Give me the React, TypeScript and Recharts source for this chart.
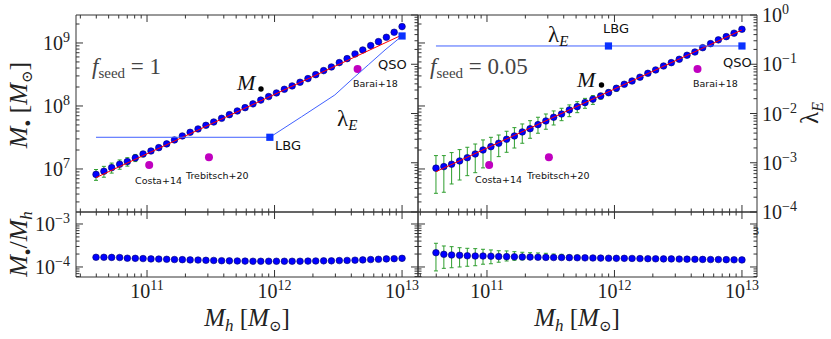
import React from 'react';
import { ComposedChart, Scatter, XAxis, YAxis, ErrorBar } from 'recharts';

// ---------- data ----------
const haloMass = [3.98e10, 4.59e10, 5.28e10, 6.10e10, 7.01e10, 8.09e10, 9.31e10, 1.074e11, 1.236e11, 1.426e11, 1.641e11, 1.892e11, 2.178e11, 2.512e11, 2.897e11, 3.334e11, 3.846e11, 4.426e11, 5.105e11, 5.875e11, 6.776e11, 7.798e11, 8.995e11, 1.035e12, 1.194e12, 1.374e12, 1.585e12, 1.828e12, 2.104e12, 2.427e12, 2.793e12, 3.221e12, 3.707e12, 4.276e12, 4.920e12, 5.675e12, 6.531e12, 7.534e12, 8.670e12, 1.0e13];

const bhMassSeed1 = [8.2e6, 9.2e6, 1.05e7, 1.19e7, 1.31e7, 1.50e7, 1.73e7, 1.93e7, 2.18e7, 2.50e7, 2.89e7, 3.34e7, 3.82e7, 4.32e7, 4.93e7, 5.57e7, 6.37e7, 7.28e7, 8.33e7, 9.4e7, 1.08e8, 1.24e8, 1.41e8, 1.61e8, 1.84e8, 2.08e8, 2.38e8, 2.72e8, 3.14e8, 3.64e8, 4.16e8, 4.88e8, 5.64e8, 6.69e8, 7.74e8, 9.08e8, 1.05e9, 1.23e9, 1.48e9, 1.82e9];
const bhMassSeed1Low = [6.6e6, 7.4e6, 8.6e6, 9.9e6, 1.11e7, 1.31e7, 1.56e7, 1.78e7];
const bhMassSeed1High = [9.8e6, 1.10e7, 1.24e7, 1.39e7, 1.51e7, 1.70e7, 1.90e7, 2.08e7];

const bhMassSeed005 = [1.03e7, 1.09e7, 1.19e7, 1.34e7, 1.51e7, 1.73e7, 2.00e7, 2.26e7, 2.56e7, 2.96e7, 3.34e7, 3.87e7, 4.36e7, 5.05e7, 5.78e7, 6.62e7, 7.46e7, 8.65e7, 9.75e7, 1.13e8, 1.28e8, 1.44e8, 1.63e8, 1.91e8, 2.21e8, 2.49e8, 2.86e8, 3.30e8, 3.73e8, 4.31e8, 4.87e8, 5.51e8, 6.38e8, 7.19e8, 8.42e8, 9.75e8, 1.12e9, 1.26e9, 1.43e9, 1.65e9];
const bhMassSeed005Low = [4.11e6, 4.27e6, 5.78e6, 6.68e6, 7.83e6, 8.73e6, 1.04e7, 1.23e7, 1.57e7, 1.84e7, 2.15e7, 2.56e7, 3.07e7, 3.69e7, 4.27e7, 4.99e7, 5.84e7, 6.76e7, 7.83e7, 9.19e7, 1.06e8, 1.28e8, 1.46e8, 1.71e8];
const bhMassSeed005High = [1.63e7, 1.63e7, 1.82e7, 2.03e7, 2.21e7, 2.49e7, 2.89e7, 3.18e7, 3.46e7, 3.97e7, 4.53e7, 5.18e7, 5.84e7, 6.62e7, 7.46e7, 8.34e7, 9.19e7, 1.04e8, 1.17e8, 1.32e8, 1.46e8, 1.59e8, 1.80e8, 2.08e8];

const fitMh = [3.98e10, 1.0e13];
const fitSeed1 = [7.3e6, 1.34e9];
const fitSeed005 = [9.06e6, 1.61e9];

const ratioSeed1 = [1.68e-4, 1.68e-4, 1.67e-4, 1.66e-4, 1.60e-4, 1.59e-4, 1.57e-4, 1.54e-4, 1.53e-4, 1.51e-4, 1.49e-4, 1.48e-4, 1.46e-4, 1.45e-4, 1.43e-4, 1.42e-4, 1.40e-4, 1.39e-4, 1.38e-4, 1.37e-4, 1.36e-4, 1.36e-4, 1.36e-4, 1.36e-4, 1.36e-4, 1.36e-4, 1.36e-4, 1.37e-4, 1.38e-4, 1.39e-4, 1.39e-4, 1.41e-4, 1.42e-4, 1.44e-4, 1.46e-4, 1.49e-4, 1.51e-4, 1.54e-4, 1.56e-4, 1.59e-4];
const ratioSeed005 = [2.15e-4, 1.97e-4, 1.90e-4, 1.87e-4, 1.82e-4, 1.80e-4, 1.80e-4, 1.78e-4, 1.75e-4, 1.74e-4, 1.73e-4, 1.71e-4, 1.70e-4, 1.68e-4, 1.67e-4, 1.66e-4, 1.66e-4, 1.65e-4, 1.64e-4, 1.63e-4, 1.62e-4, 1.61e-4, 1.60e-4, 1.59e-4, 1.59e-4, 1.58e-4, 1.57e-4, 1.56e-4, 1.55e-4, 1.54e-4, 1.54e-4, 1.53e-4, 1.52e-4, 1.51e-4, 1.50e-4, 1.49e-4, 1.49e-4, 1.48e-4, 1.47e-4, 1.46e-4];
const ratioSeed005Low = [0.81e-4, 0.93e-4, 0.96e-4, 1.0e-4, 1.04e-4, 1.07e-4, 1.16e-4, 1.19e-4, 1.29e-4, 1.38e-4, 1.43e-4, 1.46e-4, 1.51e-4, 1.54e-4, 1.56e-4, 1.57e-4, 1.58e-4, 1.59e-4, 1.59e-4, 1.59e-4];
const ratioSeed005High = [3.56e-4, 3.08e-4, 2.97e-4, 2.81e-4, 2.72e-4, 2.67e-4, 2.58e-4, 2.49e-4, 2.39e-4, 2.36e-4, 2.27e-4, 2.20e-4, 2.15e-4, 2.12e-4, 2.08e-4, 2.00e-4, 1.97e-4, 1.90e-4, 1.88e-4, 1.83e-4];

const lambdaSeed1Mh = [3.98e10, 9.19e11, 1.63e12, 2.97e12, 4.27e12, 5.43e12, 7.35e12, 1.0e13];
const lambdaSeed1 = [3.29e-3, 3.29e-3, 8.6e-3, 2.38e-2, 5.6e-2, 9.7e-2, 0.195, 0.375];
const lambdaSeed1SquaresMh = [9.19e11, 1.0e13];
const lambdaSeed1Squares = [3.29e-3, 0.375];
const lambdaSeed005Mh = [3.98e10, 1.0e13];
const lambdaSeed005 = [0.235, 0.235];
const lambdaSeed005SquaresMh = [8.97e11, 1.0e13];
const lambdaSeed005Squares = [0.235, 0.235];

const obsNames = ['Costa+14', 'Trebitsch+20', 'Barai+18'];
const obsMh = [1.04e11, 3.06e11, 4.48e12];
const obsMbh = [1.16e7, 1.53e7, 3.86e8];

const xTicks = [3e10, 4e10, 5e10, 6e10, 7e10, 8e10, 9e10, 1e11, 2e11, 3e11, 4e11, 5e11, 6e11, 7e11, 8e11, 9e11, 1e12, 2e12, 3e12, 4e12, 5e12, 6e12, 7e12, 8e12, 9e12, 1e13];
const mTicks = [3e6, 4e6, 5e6, 6e6, 7e6, 8e6, 9e6, 1e7, 2e7, 3e7, 4e7, 5e7, 6e7, 7e7, 8e7, 9e7, 1e8, 2e8, 3e8, 4e8, 5e8, 6e8, 7e8, 8e8, 9e8, 1e9, 2e9];
const lambdaTicks = [1e-4, 2e-4, 3e-4, 4e-4, 5e-4, 6e-4, 7e-4, 8e-4, 9e-4, 1e-3, 2e-3, 3e-3, 4e-3, 5e-3, 6e-3, 7e-3, 8e-3, 9e-3, 1e-2, 2e-2, 3e-2, 4e-2, 5e-2, 6e-2, 7e-2, 8e-2, 9e-2, 1e-1, 2e-1, 3e-1, 4e-1, 5e-1, 6e-1, 7e-1, 8e-1, 9e-1, 1];
const ratioTicks = [6e-5, 7e-5, 8e-5, 9e-5, 1e-4, 2e-4, 3e-4, 4e-4, 5e-4, 6e-4, 7e-4, 8e-4, 9e-4, 1e-3];

// ---------- layout / style ----------
const W = 831;
const H = 339;
const X_LEFT = 76;
const X_MID = 418;
const X_RIGHT = 757;
const Y_TOP = 15;
const Y_MID = 212;
const Y_BOT = 277;
const AXS = 1; // axis box size

const xDomLeft: [number, number] = [Math.pow(10, 10.443), Math.pow(10, 13.125)];
const xDomRight: [number, number] = [Math.pow(10, 10.459), Math.pow(10, 13.118)];
const mDom: [number, number] = [Math.pow(10, 6.317), Math.pow(10, 9.444)];
const lambdaDom: [number, number] = [1e-4, 1];
const ratioDom: [number, number] = [Math.pow(10, -4.233), Math.pow(10, -2.721)];

const AX = '#333333';
const SERIF = "'Liberation Serif', 'DejaVu Serif', serif";
const SANS = "'DejaVu Sans', 'Liberation Sans', sans-serif";
const BLUE = '#0000ff';
const GREEN = '#2e9e2e';

const isMajor = (v: number) => {
  const l = Math.log10(v);
  return Math.abs(l - Math.round(l)) < 1e-6;
};
const expOf = (v: number) => {
  const e = Math.round(Math.log10(v));
  return e < 0 ? '\u2212' + -e : String(e);
};

const xTick = (dir: number, label: boolean) => (p: any) => {
  const v = p.payload.value;
  const maj = isMajor(v);
  const len = maj ? 7 : 3.5;
  return (
    <g>
      <line x1={p.x} x2={p.x} y1={p.y} y2={p.y + dir * len} stroke={AX} strokeWidth={1} />
      {label && maj ? (
        <text x={p.x} y={p.y + 21} textAnchor="middle" fontFamily={SERIF} fontSize={20} fill="#222">
          10<tspan dy={-8} fontSize={14}>{expOf(v)}</tspan>
        </text>
      ) : null}
    </g>
  );
};

const yTick = (dir: number, label: 'left' | 'right' | null) => (p: any) => {
  const v = p.payload.value;
  const maj = isMajor(v);
  const len = maj ? 7 : 3.5;
  return (
    <g>
      <line x1={p.x} x2={p.x + dir * len} y1={p.y} y2={p.y} stroke={AX} strokeWidth={1} />
      {label && maj ? (
        <text
          x={label === 'left' ? p.x - 6 : p.x + 5}
          y={p.y + 7}
          textAnchor={label === 'left' ? 'end' : 'start'}
          fontFamily={SERIF}
          fontSize={20}
          fill="#222"
        >
          10<tspan dy={-8} fontSize={14}>{expOf(v)}</tspan>
        </text>
      ) : null}
    </g>
  );
};

type AxOpts = {
  xDomain: [number, number];
  xLabels: boolean;
  lDomain: [number, number];
  lTicks: number[];
  lLabels: boolean;
  rDomain: [number, number];
  rTicks: number[];
  rLabels: boolean;
};

const axisLine = { stroke: AX, strokeWidth: 1 };

const makeAxes = (o: AxOpts) => [
  <XAxis key="xb" xAxisId="b" dataKey="x" type="number" scale="log" domain={o.xDomain} allowDataOverflow ticks={xTicks} interval={0} height={AXS} tickLine={false} tickSize={0} tickMargin={0} axisLine={axisLine} tick={xTick(-1, o.xLabels)} />,
  <XAxis key="xt" xAxisId="t" orientation="top" dataKey="x" type="number" scale="log" domain={o.xDomain} allowDataOverflow ticks={xTicks} interval={0} height={AXS} tickLine={false} tickSize={0} tickMargin={0} axisLine={axisLine} tick={xTick(1, false)} />,
  <YAxis key="yl" yAxisId="l" orientation="left" type="number" scale="log" domain={o.lDomain} allowDataOverflow ticks={o.lTicks} interval={0} width={AXS} tickLine={false} tickSize={0} tickMargin={0} axisLine={axisLine} tick={yTick(1, o.lLabels ? 'left' : null)} />,
  <YAxis key="yr" yAxisId="r" orientation="right" type="number" scale="log" domain={o.rDomain} allowDataOverflow ticks={o.rTicks} interval={0} width={AXS} tickLine={false} tickSize={0} tickMargin={0} axisLine={axisLine} tick={yTick(-1, o.rLabels ? 'right' : null)} />,
];

const pts = (xs: number[], ys: number[]) => ys.map((y, i) => ({ x: xs[i], y }));
const withErr = (xs: number[], ys: number[], lo: number[], hi: number[]) =>
  ys.map((y, i) => ({ x: xs[i], y, e: i < lo.length ? [y - lo[i], hi[i] - y] : undefined }));

const blueDot = (p: any) => <circle cx={p.cx} cy={p.cy} r={3.3} fill={BLUE} stroke="#00006a" strokeWidth={0.6} />;
const magentaDot = (p: any) => <circle cx={p.cx} cy={p.cy} r={4} fill="#c000c0" />;
const blueSquare = (p: any) => <rect x={p.cx - 3.6} y={p.cy - 3.6} width={7.2} height={7.2} fill="#0a32ff" />;
const noMark = () => <g />;

const seed1Data = withErr(haloMass, bhMassSeed1, bhMassSeed1Low, bhMassSeed1High);
const seed005Data = withErr(haloMass, bhMassSeed005, bhMassSeed005Low, bhMassSeed005High);
const ratio1Data = pts(haloMass, ratioSeed1);
const ratio005Data = withErr(haloMass, ratioSeed005, ratioSeed005Low, ratioSeed005High);
const obsData = pts(obsMh, obsMbh);

const abs: React.CSSProperties = { position: 'absolute', left: 0, top: 0 };

const chartMargin = (x0: number, x1: number, y0: number, y1: number) => ({
  top: y0 - AXS,
  bottom: H - y1 - AXS,
  left: x0 - AXS,
  right: W - x1 - AXS,
});

const TopPanel = (props: {
  left: number;
  right: number;
  xDomain: [number, number];
  lLabels: boolean;
  rLabels: boolean;
  data: any[];
  fit: number[];
  lamMh: number[];
  lam: number[];
  sqMh: number[];
  sq: number[];
}) => (
  <div style={abs}>
    <ComposedChart width={W} height={H} margin={chartMargin(props.left, props.right, Y_TOP, Y_MID)}>
      {makeAxes({ xDomain: props.xDomain, xLabels: false, lDomain: mDom, lTicks: mTicks, lLabels: props.lLabels, rDomain: lambdaDom, rTicks: lambdaTicks, rLabels: props.rLabels })}
      <Scatter xAxisId="b" yAxisId="l" data={obsData} dataKey="y" shape={magentaDot} isAnimationActive={false} />
      <Scatter xAxisId="b" yAxisId="l" data={props.data} dataKey="y" shape={blueDot} isAnimationActive={false}>
        <ErrorBar dataKey="e" direction="y" width={2} stroke={GREEN} strokeWidth={1} />
      </Scatter>
      <Scatter xAxisId="b" yAxisId="l" data={pts(fitMh, props.fit)} dataKey="y" shape={noMark} line={{ stroke: '#ff0000', strokeWidth: 1 }} isAnimationActive={false} />
      <Scatter xAxisId="b" yAxisId="r" data={pts(props.lamMh, props.lam)} dataKey="y" shape={noMark} line={{ stroke: '#4060ff', strokeWidth: 1 }} isAnimationActive={false} />
      <Scatter xAxisId="b" yAxisId="r" data={pts(props.sqMh, props.sq)} dataKey="y" shape={blueSquare} isAnimationActive={false} />
    </ComposedChart>
  </div>
);

const BottomPanel = (props: {
  left: number;
  right: number;
  xDomain: [number, number];
  lLabels: boolean;
  data: any[];
}) => (
  <div style={abs}>
    <ComposedChart width={W} height={H} margin={chartMargin(props.left, props.right, Y_MID, Y_BOT)}>
      {makeAxes({ xDomain: props.xDomain, xLabels: true, lDomain: ratioDom, lTicks: ratioTicks, lLabels: props.lLabels, rDomain: ratioDom, rTicks: ratioTicks, rLabels: false })}
      <Scatter xAxisId="b" yAxisId="l" data={props.data} dataKey="y" shape={blueDot} isAnimationActive={false}>
        <ErrorBar dataKey="e" direction="y" width={2} stroke={GREEN} strokeWidth={1} />
      </Scatter>
    </ComposedChart>
  </div>
);

const Sub = ({ children, size = 14, dy = 5 }: any) => (
  <tspan fontSize={size} dy={dy}>{children}</tspan>
);

export default function App() {
  const small = { fontFamily: SANS, fontSize: 9.5, fill: '#111' };
  const mid = { fontFamily: SANS, fontSize: 13, fill: '#111' };
  return (
    <div style={{ position: 'absolute', left: 0, top: 0, width: W, height: H, background: '#fff', overflow: 'hidden' }}>
      <TopPanel left={X_LEFT} right={X_MID} xDomain={xDomLeft} lLabels rLabels={false} data={seed1Data} fit={fitSeed1} lamMh={lambdaSeed1Mh} lam={lambdaSeed1} sqMh={lambdaSeed1SquaresMh} sq={lambdaSeed1Squares} />
      <TopPanel left={X_MID} right={X_RIGHT} xDomain={xDomRight} lLabels={false} rLabels data={seed005Data} fit={fitSeed005} lamMh={lambdaSeed005Mh} lam={lambdaSeed005} sqMh={lambdaSeed005SquaresMh} sq={lambdaSeed005Squares} />
      <BottomPanel left={X_LEFT} right={X_MID} xDomain={xDomLeft} lLabels data={ratio1Data} />
      <BottomPanel left={X_MID} right={X_RIGHT} xDomain={xDomRight} lLabels={false} data={ratio005Data} />
      <svg width={W} height={H} style={{ ...abs, pointerEvents: 'none' }}>
        {/* axis titles */}
        <text transform="translate(27,105) rotate(-90)" textAnchor="middle" fontFamily={SERIF} fontSize={26} fill="#222">
          <tspan fontStyle="italic">M</tspan>
          <tspan fontSize={11} dy={4}>●</tspan>
          <tspan dy={-4}> [</tspan>
          <tspan fontStyle="italic">M</tspan>
          <tspan fontSize={15} dy={5}>⊙</tspan>
          <tspan dy={-5}>]</tspan>
        </text>
        <text transform="translate(27,244) rotate(-90)" textAnchor="middle" fontFamily={SERIF} fontSize={26} fill="#222">
          <tspan fontStyle="italic">M</tspan>
          <tspan fontSize={11} dy={4}>●</tspan>
          <tspan dy={-4}>/</tspan>
          <tspan fontStyle="italic">M</tspan>
          <tspan fontStyle="italic" fontSize={17} dy={5}>h</tspan>
        </text>
        {[247, 577].map((cx) => (
          <text key={cx} x={cx} y={326} textAnchor="middle" fontFamily={SERIF} fontSize={25} fill="#222">
            <tspan fontStyle="italic">M</tspan>
            <tspan fontStyle="italic" fontSize={17} dy={5}>h</tspan>
            <tspan dy={-5}> [</tspan>
            <tspan fontStyle="italic">M</tspan>
            <tspan fontSize={15} dy={5}>⊙</tspan>
            <tspan dy={-5}>]</tspan>
          </text>
        ))}
        <text transform="translate(818,113) rotate(-90)" textAnchor="middle" fontFamily={SERIF} fontSize={25} fill="#222">
          <tspan>λ</tspan>
          <tspan fontStyle="italic" fontSize={16} dy={5}>E</tspan>
        </text>

        {/* left panel annotations */}
        <text x={92} y={74} fontFamily={SERIF} fontSize={23} fill="#444">
          <tspan fontStyle="italic">f</tspan>
          <Sub size={15} dy={4}>seed</Sub>
          <tspan dy={-4}> = 1</tspan>
        </text>
        <text x={237} y={90} fontFamily={SERIF} fontSize={22} fontStyle="italic" fill="#111">M</text>
        <circle cx={261} cy={89} r={2.7} fill="#000" />
        <text x={337} y={126} fontFamily={SERIF} fontSize={23} fill="#111">
          λ<tspan fontStyle="italic" fontSize={15} dy={4}>E</tspan>
        </text>
        <text x={275} y={150} {...mid}>LBG</text>
        <text x={378} y={69} {...mid}>QSO</text>
        <text x={353} y={87} {...small}>{obsNames[2]}</text>
        <text x={135} y={184} {...small}>{obsNames[0]}</text>
        <text x={186} y={179} {...small}>{obsNames[1]}</text>

        {/* right panel annotations */}
        <text x={430} y={74} fontFamily={SERIF} fontSize={23} fill="#444">
          <tspan fontStyle="italic">f</tspan>
          <Sub size={15} dy={4}>seed</Sub>
          <tspan dy={-4}> = 0.05</tspan>
        </text>
        <text x={577} y={87} fontFamily={SERIF} fontSize={22} fontStyle="italic" fill="#111">M</text>
        <circle cx={601.5} cy={85} r={2.7} fill="#000" />
        <text x={548} y={42} fontFamily={SERIF} fontSize={23} fill="#111">
          λ<tspan fontStyle="italic" fontSize={15} dy={4}>E</tspan>
        </text>
        <text x={603} y={33} {...mid}>LBG</text>
        <text x={723} y={67} {...mid}>QSO</text>
        <text x={693} y={87} {...small}>{obsNames[2]}</text>
        <text x={475} y={183} {...small}>{obsNames[0]}</text>
        <text x={527} y={179} {...small}>{obsNames[1]}</text>
        <text x={753} y={235} fontFamily={SERIF} fontSize={12} fill="#222">3</text>
      </svg>
    </div>
  );
}
